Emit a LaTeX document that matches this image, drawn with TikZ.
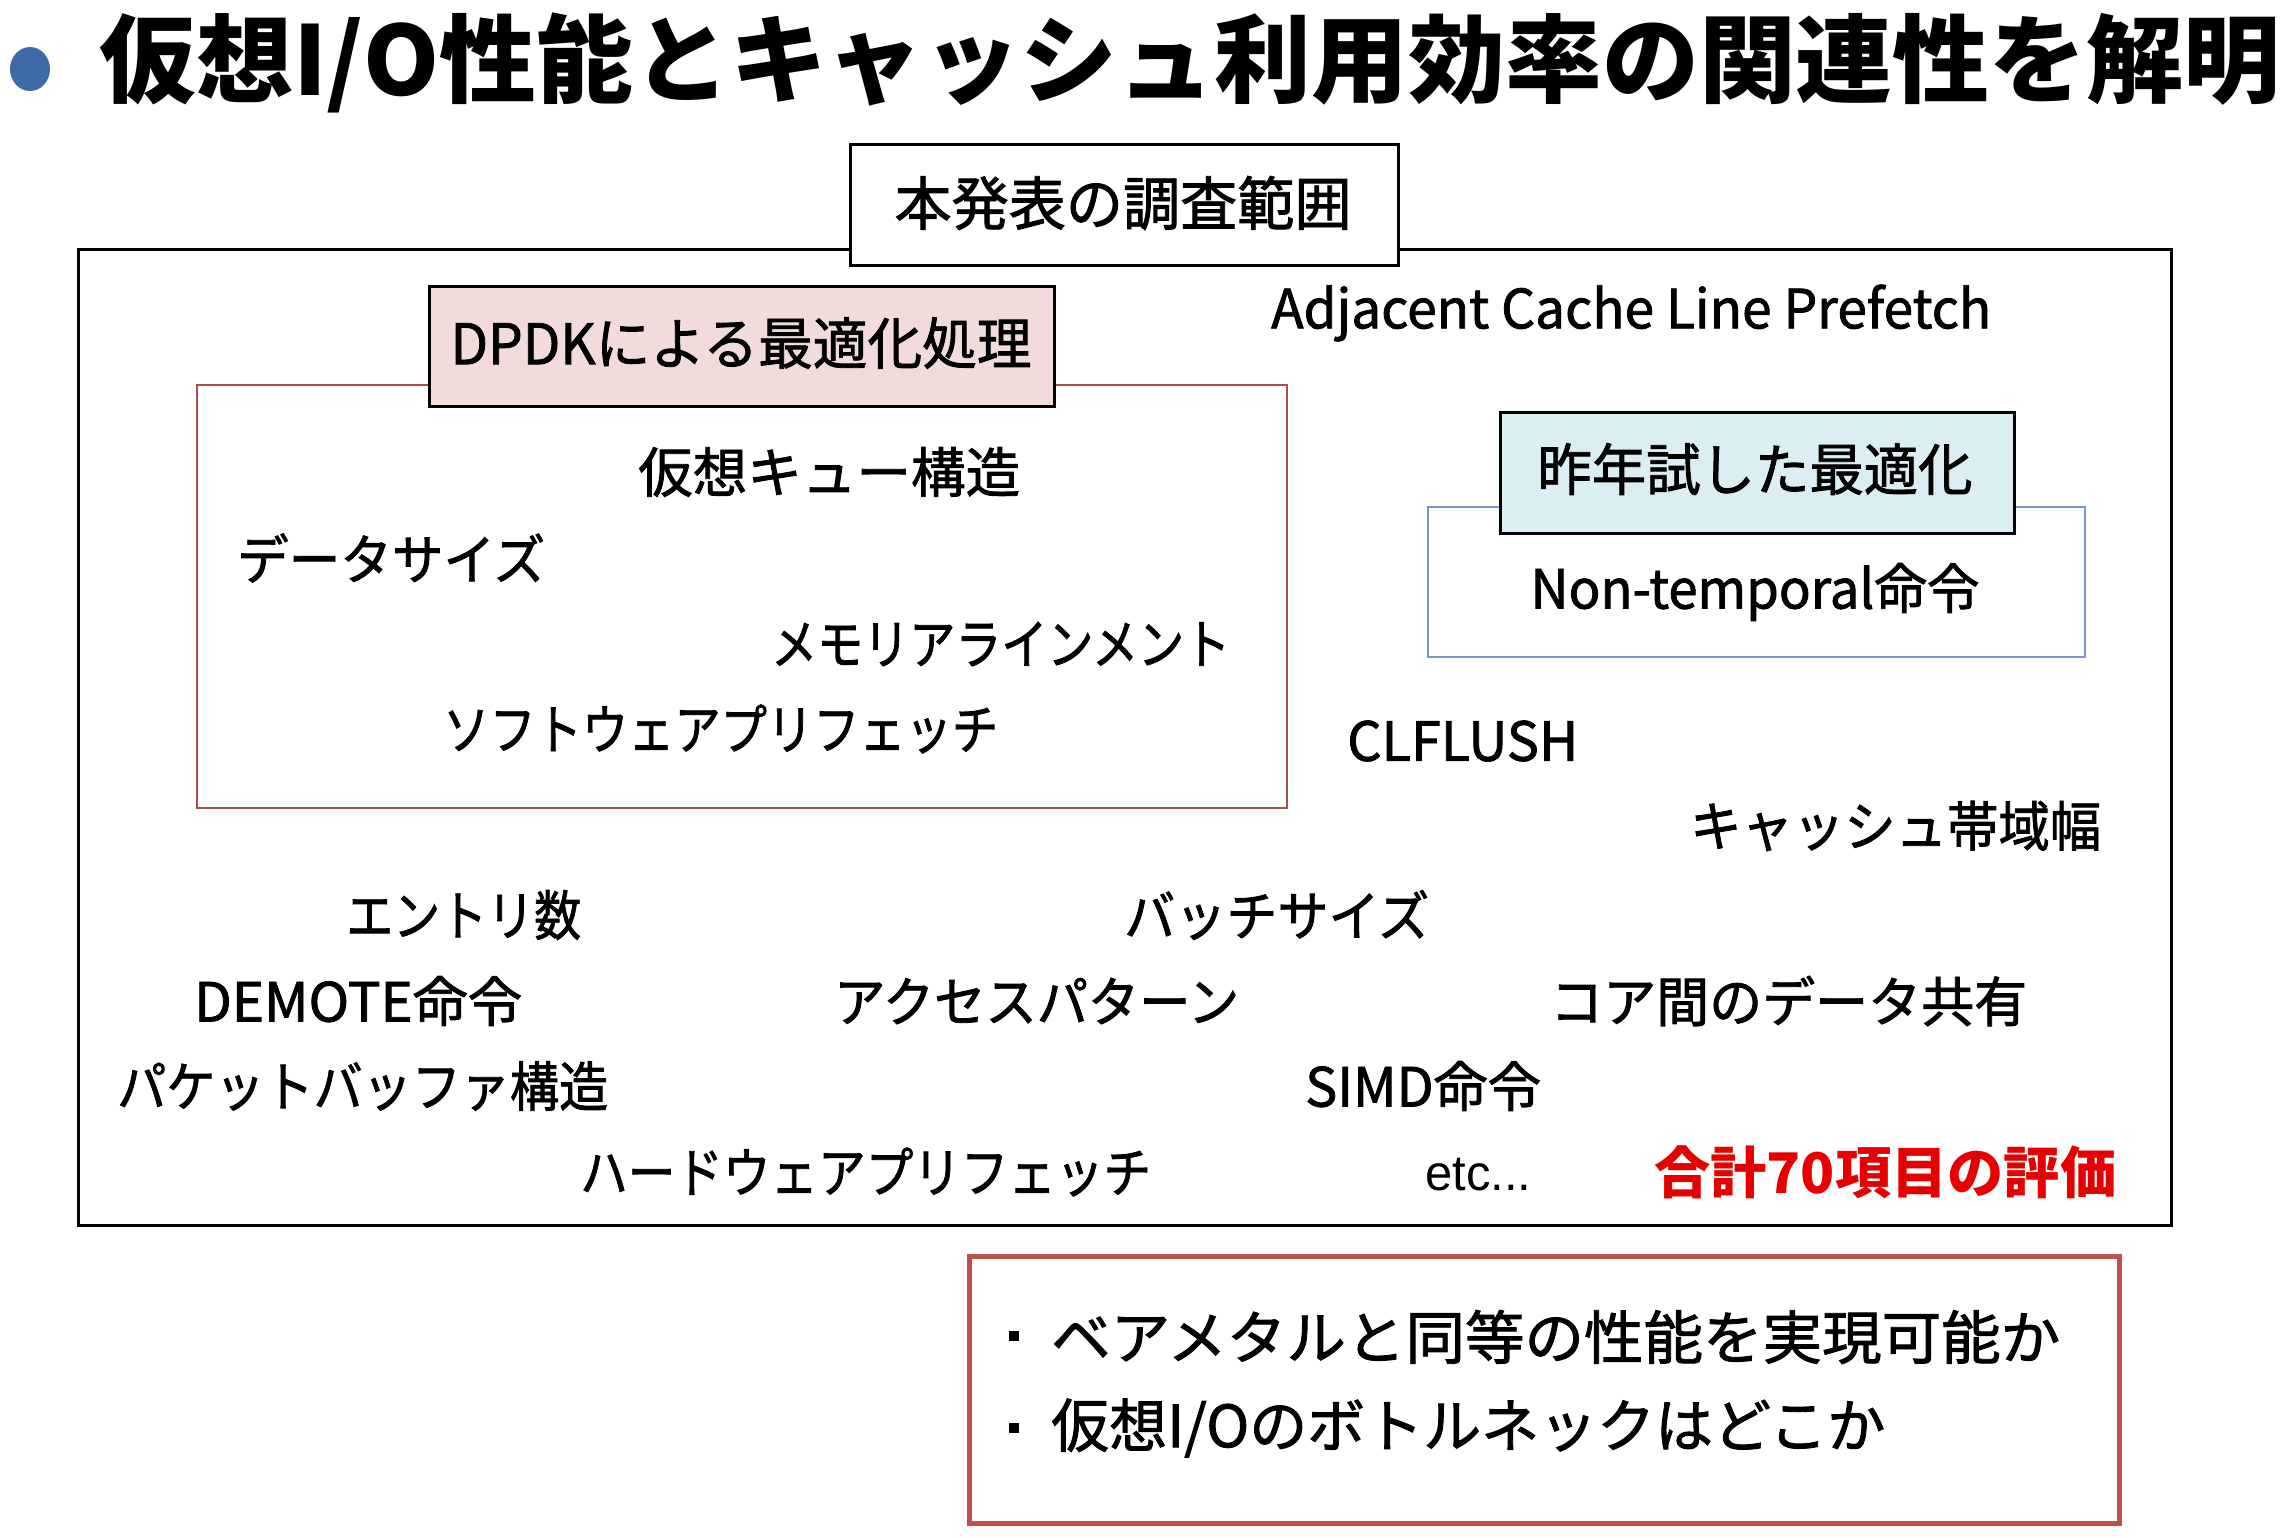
\documentclass[tikz,border=0pt]{standalone}
\usepackage{fontspec}
\usepackage{graphicx}
\usetikzlibrary{shapes.geometric}
\newfontfamily\jp[FakeBold=1.5]{Noto Sans CJK JP}
\newfontfamily\jpt{Noto Sans CJK JP}
\newfontfamily\lat{Liberation Sans}
\newcommand\fitw[2]{\resizebox{#1pt}{\height}{#2}}
\definecolor{bulletblue}{RGB}{62,106,168}
\definecolor{pinkfill}{RGB}{242,220,219}
\definecolor{dpdkline}{RGB}{168,78,70}
\definecolor{bluefill}{RGB}{219,238,243}
\definecolor{blueline}{RGB}{120,150,200}
\definecolor{redline}{RGB}{192,80,77}
\definecolor{redtext}{RGB}{230,0,0}
\tikzset{
  item/.style={anchor=west, inner sep=0pt, font=\jp\fontsize{54}{60}\selectfont},
  frame/.style={draw, anchor=north west, inner sep=0pt, line width=2.5pt},
  header/.style={inner sep=0pt, font=\jp\fontsize{56}{62}\selectfont},
  sqdot/.style={fill=black, inner sep=0pt, minimum size=10pt},
}
\begin{document}
\begin{tikzpicture}[x=1pt,y=-1pt]
\useasboundingbox[fill=white] (0,0) rectangle (2291,1537);
% title
\node[ellipse, fill=bulletblue, minimum width=40pt, minimum height=44pt, inner sep=0pt] (bullet) at (30,69) {};
\node[anchor=west, inner sep=0pt, font=\jpt\bfseries\fontsize{96}{110}\selectfont] (title) at (99,63)
  {\fitw{2181}{仮想I/O性能とキャッシュ利用効率の関連性を解明}};
% main frame
\node[frame, minimum width=2093pt, minimum height=976pt] (main) at (77,248) {};
\node[frame, fill=white, minimum width=548pt, minimum height=121pt] (scope) at (849,143) {};
\node[header, font=\jp\fontsize{58}{64}\selectfont] (scopetxt) at (1123,203) {\fitw{457}{本発表の調査範囲}};
% DPDK group
\node[frame, draw=dpdkline, line width=2pt, minimum width=1090pt, minimum height=423pt] (dpdk) at (196,384) {};
\node[frame, fill=pinkfill, minimum width=625pt, minimum height=120pt] (dpdkhead) at (428,285) {};
\node[header] (dpdktxt) at (741,343) {\fitw{581}{DPDKによる最適化処理}};
% last year group
\node[frame, draw=blueline, line width=2pt, minimum width=657pt, minimum height=150pt] (last) at (1427,506) {};
\node[frame, fill=bluefill, minimum width=514pt, minimum height=121pt] (lasthead) at (1499,411) {};
\node[header] (lasttxt) at (1755,469) {\fitw{435}{昨年試した最適化}};
\node[header, font=\jp\fontsize{54}{60}\selectfont] (nt) at (1755,592) {\fitw{449}{Non-temporal命令}};
% items
\node[item] (adj) at (1271,313) {\fitw{720}{Adjacent Cache Line Prefetch}};
\node[item] (vq) at (638,472) {\fitw{382}{仮想キュー構造}};
\node[item] (ds) at (237,558) {\fitw{308}{データサイズ}};
\node[item] (mem) at (771,644) {\fitw{459}{メモリアラインメント}};
\node[item] (swp) at (443,729) {\fitw{555}{ソフトウェアプリフェッチ}};
\node[item] (clf) at (1347,741) {\fitw{231}{CLFLUSH}};
\node[item] (cbw) at (1690,826) {\fitw{411}{キャッシュ帯域幅}};
\node[item] (ent) at (346,915) {\fitw{235}{エントリ数}};
\node[item] (bat) at (1124,915) {\fitw{305}{バッチサイズ}};
\node[item] (dem) at (194,1001) {\fitw{328}{DEMOTE命令}};
\node[item] (acc) at (834,1001) {\fitw{405}{アクセスパターン}};
\node[item] (core) at (1550,1001) {\fitw{477}{コア間のデータ共有}};
\node[item] (pkt) at (117,1086) {\fitw{491}{パケットバッファ構造}};
\node[item] (simd) at (1305,1086) {\fitw{236}{SIMD命令}};
\node[item] (hwp) at (580,1172) {\fitw{571}{ハードウェアプリフェッチ}};
\node[item, font=\lat\fontsize{50}{56}\selectfont] (etc) at (1425,1175) {\fitw{106}{etc...}};
\node[item, font=\jpt\bfseries\fontsize{56}{62}\selectfont, text=redtext] (total) at (1654,1172) {\fitw{462}{合計70項目の評価}};
% bottom box
\node[frame, draw=redline, line width=5pt, minimum width=1150pt, minimum height=267pt] (q) at (967,1254) {};
\node[sqdot] (d1) at (1014,1336) {};
\node[sqdot] (d2) at (1014,1428) {};
\node[item, font=\jp\fontsize{58}{64}\selectfont] (q1) at (1051,1337) {\fitw{1009}{ベアメタルと同等の性能を実現可能か}};
\node[item, font=\jp\fontsize{58}{64}\selectfont] (q2) at (1051,1428) {\fitw{834}{仮想I/Oのボトルネックはどこか}};
\end{tikzpicture}
\end{document}
